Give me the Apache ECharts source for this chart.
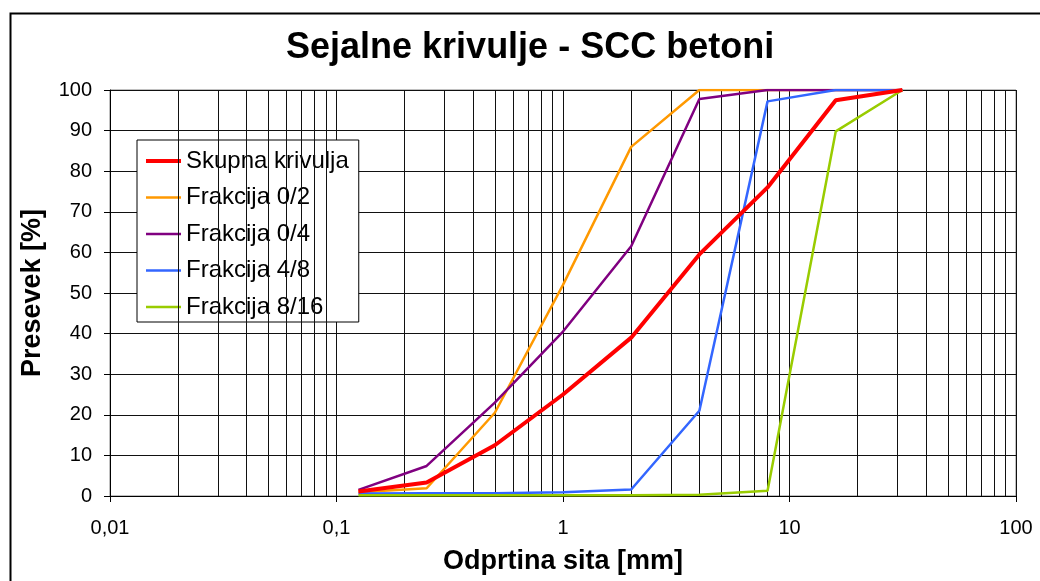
<!DOCTYPE html>
<html>
<head>
<meta charset="utf-8">
<title>Sejalne krivulje - SCC betoni</title>
<script src="https://cdn.jsdelivr.net/npm/echarts@6/dist/echarts.min.js"></script>
<style>
html, body { margin: 0; padding: 0; background: #fff; }
#main { width: 1040px; height: 581px; }
</style>
</head>
<body>
<div id="main"></div>
<script>
// odprtine sit [mm]
var sieves = [0.125, 0.25, 0.5, 1, 2, 4, 8, 16, 31.5];

// presevki [%]
var skupna = [1.1, 3.3, 12.5, 25, 39, 59.5, 76, 97.5, 100];
var frak02 = [0.9, 1.9, 20.5, 52, 86, 100, 100, 100, 100];
var frak04 = [1.5, 7.4, 23, 40.5, 61.5, 97.8, 100, 100, 100];
var frak48 = [0.6, 0.7, 0.7, 0.9, 1.6, 21, 97.2, 100, 100];
var frak816 = [0.2, 0.2, 0.2, 0.2, 0.2, 0.3, 1.3, 89.8, 100];

var seriesNames = ['Skupna krivulja', 'Frakcija 0/2', 'Frakcija 0/4', 'Frakcija 4/8', 'Frakcija 8/16'];
var seriesColors = ['#ff0000', '#ff9900', '#800080', '#3366ff', '#99cc00'];
var lineWidths = [4, 2.5, 2.5, 2.5, 2.5];

// vmesne crte mreze na log osi (2..9 v vsaki dekadi)
var decades = [0.01, 0.1, 1, 10];
var minorGrid = [];
decades.forEach(function (d) {
	for (var k = 2; k <= 9; k++) minorGrid.push(+(d * k).toPrecision(3));
});

function pairs(vals) {
	return sieves.map(function (s, i) { return [s, vals[i]]; });
}

var font = 'Liberation Sans, Arial, sans-serif';
var myChart = echarts.init(document.getElementById('main'));

var option = {
	backgroundColor: '#fff',
	animation: false,
	textStyle: { fontFamily: font },
	title: {
		text: 'Sejalne krivulje - SCC betoni',
		left: 286,
		top: 30,
		padding: 0,
		textStyle: { fontFamily: font, fontSize: 36, fontWeight: 'bold', color: '#000' }
	},
	graphic: [{
		type: 'rect',
		left: 8,
		top: 11,
		z: -10,
		shape: { width: 1100, height: 700 },
		style: { fill: null, stroke: '#000', lineWidth: 2 }
	}],
	legend: {
		data: seriesNames.map(function (n, i) {
			return { name: n, lineStyle: { width: lineWidths[i] } };
		}),
		orient: 'vertical',
		left: 137,
		top: 140,
		padding: [9, 10, 3, 7],
		itemWidth: 35,
		itemHeight: 14,
		itemGap: 12.5,
		backgroundColor: '#fff',
		borderColor: '#000',
		borderWidth: 1,
		itemStyle: { opacity: 0 },
		textStyle: { fontFamily: font, fontSize: 24, lineHeight: 22, color: '#000' }
	},
	grid: {
		left: 110,
		right: 24,
		top: 90,
		bottom: 85,
		show: true,
		backgroundColor: '#fff',
		borderColor: '#808080',
		borderWidth: 1
	},
	xAxis: {
		type: 'log',
		logBase: 10,
		min: 0.01,
		max: 100,
		name: 'Odprtina sita [mm]',
		nameLocation: 'middle',
		nameGap: 52,
		nameTextStyle: { fontFamily: font, fontSize: 27, fontWeight: 'bold', color: '#000' },
		axisLine: { lineStyle: { color: '#000', width: 1 } },
		axisTick: { show: true, inside: false, length: 6, lineStyle: { color: '#000' } },
		axisLabel: {
			margin: 22,
			fontFamily: font,
			fontSize: 20,
			color: '#000',
			formatter: function (v) { return String(v).replace('.', ','); }
		},
		splitLine: { show: true, lineStyle: { color: '#111', width: 1 } }
	},
	yAxis: {
		type: 'value',
		min: 0,
		max: 100,
		interval: 10,
		name: 'Presevek [%]',
		nameLocation: 'middle',
		nameGap: 64,
		nameTextStyle: { fontFamily: font, fontSize: 27, fontWeight: 'bold', color: '#000' },
		axisLine: { show: true, lineStyle: { color: '#000', width: 1 } },
		axisTick: { show: true, inside: false, length: 6, lineStyle: { color: '#000' } },
		axisLabel: { margin: 18, fontFamily: font, fontSize: 20, color: '#000' },
		splitLine: { show: true, lineStyle: { color: '#111', width: 1 } }
	},
	series: [
		{
			name: 'mreza',
			type: 'line',
			data: [],
			silent: true,
			z: 1,
			markLine: {
				silent: true,
				symbol: 'none',
				animation: false,
				label: { show: false },
				lineStyle: { color: '#111', width: 1, type: 'solid' },
				data: minorGrid.map(function (v) { return { xAxis: v }; })
			}
		},
		{
			name: seriesNames[0], type: 'line', symbol: 'none', z: 10,
			color: seriesColors[0], lineStyle: { width: lineWidths[0] },
			data: pairs(skupna)
		},
		{
			name: seriesNames[1], type: 'line', symbol: 'none', z: 5,
			color: seriesColors[1], lineStyle: { width: lineWidths[1] },
			data: pairs(frak02)
		},
		{
			name: seriesNames[2], type: 'line', symbol: 'none', z: 5,
			color: seriesColors[2], lineStyle: { width: lineWidths[2] },
			data: pairs(frak04)
		},
		{
			name: seriesNames[3], type: 'line', symbol: 'none', z: 5,
			color: seriesColors[3], lineStyle: { width: lineWidths[3] },
			data: pairs(frak48)
		},
		{
			name: seriesNames[4], type: 'line', symbol: 'none', z: 5,
			color: seriesColors[4], lineStyle: { width: lineWidths[4] },
			data: pairs(frak816)
		}
	]
};

myChart.setOption(option);
</script>
</body>
</html>
